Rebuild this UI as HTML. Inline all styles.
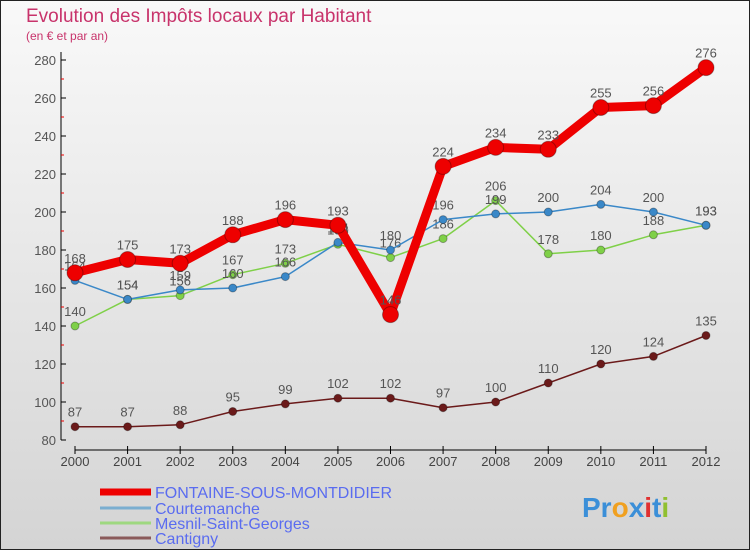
<!DOCTYPE html>
<html><head><meta charset="utf-8"><style>
body{margin:0}
svg{display:block;font-family:"Liberation Sans",sans-serif}
</style></head><body>
<svg width="750" height="550" viewBox="0 0 750 550">
<defs><linearGradient id="bg" x1="0" y1="0" x2="0" y2="1"><stop offset="0" stop-color="#f9f9f9"/><stop offset="1" stop-color="#d4d4d4"/></linearGradient></defs>
<rect x="0.5" y="0.5" width="749" height="549" fill="url(#bg)" stroke="#222"/>
<text x="26" y="22" font-size="19" fill="#c8336b">Evolution des Impôts locaux par Habitant</text>
<text x="26" y="40" font-size="12" fill="#c8336b">(en € et par an)</text>
<g id="axes"></g>
<g id="series"></g>
<g id="legend"></g>
<text x="582" y="517" font-size="28" font-weight="bold"><tspan fill="#3b8fd8">Pr</tspan><tspan fill="#f0a020">o</tspan><tspan fill="#3b8fd8">x</tspan><tspan fill="#e03030">i</tspan><tspan fill="#3b8fd8">t</tspan><tspan fill="#90c030">i</tspan></text>
</svg>
<script>
const years=[2000,2001,2002,2003,2004,2005,2006,2007,2008,2009,2010,2011,2012];
const yTicks=[80,100,120,140,160,180,200,220,240,260,280];
const fontaine=[168,175,173,188,196,193,146,224,234,233,255,256,276];
const courtemanche=[164,154,159,160,166,184,180,196,199,200,204,200,193];
const mesnil=[140,154,156,167,173,183,176,186,206,178,180,188,193];
const cantigny=[87,87,88,95,99,102,102,97,100,110,120,124,135];
const NS="http://www.w3.org/2000/svg";
function X(i){return 75+i*(706-75)/12;}
function Y(v){return 440-(v-80)*1.9;}
function mk(tag,attrs,parent){const e=document.createElementNS(NS,tag);for(const k in attrs)e.setAttribute(k,attrs[k]);parent.appendChild(e);return e;}
const ax=document.getElementById('axes');
let l=mk('line',{x1:61,y1:52,x2:61,y2:440,stroke:'#000'},ax);


yTicks.forEach((t,k)=>{
  mk('line',{x1:61,y1:Y(t),x2:66,y2:Y(t),stroke:'#000'},ax);
  if(k<yTicks.length-1)mk('line',{x1:61,y1:Y(t+10),x2:64,y2:Y(t+10),stroke:'#e00'},ax);
  const tx=mk('text',{x:56,y:Y(t)+5,'font-size':13,fill:'#555','text-anchor':'end'},ax);
  tx.textContent=t;
  
  
});
l=mk('line',{x1:75,y1:450,x2:706,y2:450,stroke:'#000'},ax);


years.forEach((y,i)=>{
  mk('line',{x1:X(i),y1:446,x2:X(i),y2:454,stroke:'#000'},ax);
  const tx=mk('text',{x:X(i),y:466,'font-size':13,fill:'#444','text-anchor':'middle'},ax);
  tx.textContent=y;
  
  
});
const sg=document.getElementById('series');
function series(data,color,w,r,name){
  const g=mk('g',{},sg);
  
  
  mk('polyline',{points:data.map((v,i)=>X(i)+','+Y(v)).join(' '),fill:'none',stroke:color,'stroke-width':w,'stroke-linejoin':'round'},g);
  data.forEach((v,i)=>{
    const c=mk('circle',{cx:X(i),cy:Y(v),r:r,fill:color,stroke:'rgba(0,0,0,0.3)','stroke-width':1},g);
    
    
    const t=mk('text',{x:X(i),y:Y(v)-10,'font-size':13,fill:'#555','text-anchor':'middle'},g);
    t.textContent=v;
    
    
  });
}
series(cantigny,'#6b1a1a',1.5,4,'series-cantigny');
series(mesnil,'#7fd048',1.5,4,'series-mesnil');
series(courtemanche,'#3a88c8',1.5,4,'series-courtemanche');
series(fontaine,'#ee0000',9,8,'series-fontaine');
const lg=document.getElementById('legend');
const names=['FONTAINE-SOUS-MONTDIDIER','Courtemanche','Mesnil-Saint-Georges','Cantigny'];
const cols=['#ee0000','#7aaed0','#9ed880','#8a5a5a'];
const widths=[7,3,3,3];
const ly=[492,508,523,538];
names.forEach((n,k)=>{
  const g=mk('g',{},lg);
  
  
  mk('line',{x1:100,y1:ly[k],x2:151,y2:ly[k],stroke:cols[k],'stroke-width':widths[k]},g);
  const t=mk('text',{x:155,y:ly[k]+6,'font-size':16,fill:'#5a6cf0'},g);
  t.textContent=n;
});
</script>
</body></html>
